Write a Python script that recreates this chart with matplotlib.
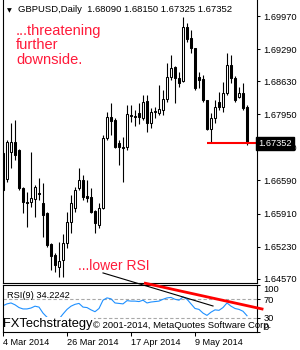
import matplotlib
matplotlib.use('Agg')
import matplotlib.pyplot as plt
import matplotlib.transforms as mtransforms
import numpy as np
import pandas as pd

plt.rcParams['font.family'] = ['Liberation Sans', 'DejaVu Sans']

# ---------------- data ----------------
symbol = "GBPUSD,Daily"
start_date = "2014-03-04"

opens = [
    1.6715, 1.6662, 1.6718, 1.6738, 1.6722, 1.6644, 1.6615, 1.6615, 1.6621, 1.6633,
    1.6613, 1.6592, 1.6529, 1.6506, 1.6481, 1.6496, 1.6531, 1.6574, 1.6602, 1.6644,
    1.6660, 1.6627, 1.6625, 1.6596, 1.6568, 1.6602, 1.6746, 1.6789, 1.6783, 1.6736,
    1.6728, 1.6728, 1.6794, 1.6792, 1.6798, 1.6787, 1.6822, 1.6777, 1.6800, 1.6798,
    1.6804, 1.6826, 1.6872, 1.6892, 1.6870, 1.6863, 1.6974, 1.6952, 1.6931, 1.6872,
    1.6868, 1.6824, 1.6765, 1.6787, 1.6820, 1.6810, 1.6839, 1.6896, 1.6870, 1.6831,
    1.6839, 1.68090]
highs = [
    1.6720, 1.6742, 1.6777, 1.6783, 1.6723, 1.6646, 1.6635, 1.6718, 1.6650, 1.6664,
    1.6654, 1.6594, 1.6531, 1.6510, 1.6533, 1.6549, 1.6594, 1.6629, 1.6646, 1.6685,
    1.6670, 1.6660, 1.6644, 1.6598, 1.6613, 1.6752, 1.6800, 1.6818, 1.6787, 1.6742,
    1.6748, 1.6814, 1.6814, 1.6804, 1.6818, 1.6835, 1.6835, 1.6808, 1.6810, 1.6855,
    1.6845, 1.6900, 1.6917, 1.6894, 1.6882, 1.6995, 1.6983, 1.6968, 1.6932, 1.6882,
    1.6876, 1.6825, 1.6798, 1.6824, 1.6841, 1.6861, 1.6921, 1.6917, 1.6874, 1.6851,
    1.6859, 1.68150]
lows = [
    1.6637, 1.6656, 1.6685, 1.6701, 1.6639, 1.6592, 1.6564, 1.6604, 1.6584, 1.6619,
    1.6543, 1.6522, 1.6475, 1.6471, 1.6461, 1.6461, 1.6520, 1.6551, 1.6594, 1.6639,
    1.6619, 1.6615, 1.6592, 1.6551, 1.6561, 1.6600, 1.6742, 1.6752, 1.6726, 1.6691,
    1.6656, 1.6722, 1.6779, 1.6771, 1.6775, 1.6783, 1.6759, 1.6767, 1.6787, 1.6794,
    1.6794, 1.6820, 1.6865, 1.6818, 1.6851, 1.6861, 1.6944, 1.6921, 1.6845, 1.6849,
    1.6820, 1.6763, 1.6735, 1.6777, 1.6804, 1.6800, 1.6835, 1.6859, 1.6820, 1.6829,
    1.6804, 1.67325]
closes = [
    1.6639, 1.6738, 1.6738, 1.6711, 1.6644, 1.6615, 1.6613, 1.6623, 1.6646, 1.6631,
    1.6588, 1.6527, 1.6504, 1.6485, 1.6494, 1.6531, 1.6574, 1.6613, 1.6639, 1.6660,
    1.6625, 1.6623, 1.6594, 1.6572, 1.6602, 1.6746, 1.6789, 1.6781, 1.6728, 1.6728,
    1.6726, 1.6796, 1.6792, 1.6789, 1.6789, 1.6820, 1.6777, 1.6800, 1.6802, 1.6806,
    1.6826, 1.6872, 1.6890, 1.6870, 1.6859, 1.6974, 1.6950, 1.6931, 1.6849, 1.6865,
    1.6824, 1.6765, 1.6787, 1.6810, 1.6810, 1.6839, 1.6896, 1.6870, 1.6824, 1.6839,
    1.6808, 1.67352]
rsi = [
    56, 60, 62, 58, 52, 49, 49, 51, 55, 53,
    40, 31, 27, 24, 27, 38, 48, 55, 59, 61,
    53, 52, 47, 43, 50, 68, 73, 71, 62, 61,
    60, 67, 66, 66, 65, 68, 62, 64, 65, 66,
    70, 73, 74, 70, 68, 75, 70, 60, 50, 48,
    40, 35, 42, 47, 46, 52, 62, 55, 50, 48,
    44, 34.2242]

price_ticks = [1.69970, 1.69290, 1.68630, 1.67950, 1.67270, 1.66590, 1.65910, 1.65230, 1.64570]
rsi_ticks = [100, 70, 30, 0]
rsi_levels = [70, 30]
date_labels = ["4 Mar 2014", "26 Mar 2014", "17 Apr 2014", "9 May 2014"]
support_from_date = "2014-05-14"

# annotation trend lines (bar index, RSI value)
black_trend = ([25, 52.5], [127.2, 55.4])
red_trend = ([35.25, 65.1], [105.4, 48.3])

note_main = "...threatening\nfurther\ndownside."
note_rsi = "...lower RSI"
brand = "FXTechstrategy"
copyright_txt = "\u00a9 2001-2014, MetaQuotes Software Corp."

# ---------------- figure ----------------
W, H = 300, 350
fig = plt.figure(figsize=(W / 100, H / 100), dpi=100)
fig.patch.set_facecolor('white')

def fx(x):
    return x / W

def fy(y):
    return 1 - y / H

ax = fig.add_axes([fx(2.5), fy(283), fx(257) - fx(2.5), fy(0) - fy(283)])
ax2 = fig.add_axes([fx(2.5), fy(331.5), fx(257) - fx(2.5), fy(285) - fy(331.5)])

dates = pd.bdate_range(start_date, periods=len(closes))
x = np.arange(len(closes))
o = np.array(opens); c = np.array(closes)
hi = np.array(highs); lo = np.array(lows)

bull = c >= o
faces = ['white' if b else 'black' for b in bull]
bottoms = np.minimum(o, c)
heights = np.abs(c - o)

ax.vlines(x, lo, hi, color='black', lw=0.8, zorder=2)
ax.bar(x, heights, bottom=bottoms, width=0.62, color=faces, edgecolor='black',
       linewidth=0.75, zorder=3)

xmin, xmax = -0.125, 63.5
ax.set_xlim(xmin, xmax)
ax.set_ylim(1.64483, 1.70299)
ax.set_xticks([])
ax.yaxis.tick_right()
ax.set_yticks(price_ticks)
ax.set_yticklabels([f"{v:.5f}" for v in price_ticks])
ax.tick_params(axis='y', direction='out', length=2.5, width=0.75, pad=2,
               labelsize=6.7, colors='black')
ax.spines['top'].set_visible(False)
for s in ['left', 'right', 'bottom']:
    ax.spines[s].set_linewidth(0.8)

# support line
sidx = list(dates.strftime('%Y-%m-%d')).index(support_from_date)
ax.plot([sidx, xmax], [closes[-1], closes[-1]], color='#FF0000', lw=1.5, zorder=4,
        solid_capstyle='butt')

# price box
trans = mtransforms.blended_transform_factory(ax.transAxes, ax.transData)
ax.text(1.006, closes[-1], f"{closes[-1]:.5f}", transform=trans, color='white',
        fontsize=6.7, va='center', ha='left', zorder=6, clip_on=False,
        bbox=dict(boxstyle='square,pad=0.25', facecolor='black', edgecolor='black'))

# header
fig.text(fx(9.5), fy(10.5), "\u25bc", fontsize=4.5, family=['DejaVu Sans'],
         ha='center', va='center')
fig.text(fx(18), fy(10), f"{symbol}  {opens[-1]:.5f} {highs[-1]:.5f} {lows[-1]:.5f} {closes[-1]:.5f}",
         fontsize=6.8, ha='left', va='center', color='black')

red_txt = '#FF1A3A'
fig.text(fx(16), fy(23.5), note_main, fontsize=10.5, color=red_txt, ha='left', va='top',
         linespacing=1.05)
fig.text(fx(78.5), fy(265.5), note_rsi, fontsize=10, color=red_txt, ha='left', va='center')

# ---------------- RSI pane ----------------
for lvl in rsi_levels:
    ax2.axhline(lvl, color='#A8A8A8', lw=0.8, linestyle=(0, (3, 2)), zorder=1)
ax2.plot(x, rsi, color='#1E90FF', lw=0.8, zorder=2)
ax2.set_xlim(xmin, xmax)
ax2.set_ylim(0, 101)
ax2.yaxis.tick_right()
ax2.set_yticks(rsi_ticks)
ax2.set_yticklabels([str(v) for v in rsi_ticks])
for lbl, v in zip(ax2.get_yticklabels(), rsi_ticks):
    if v == 100:
        lbl.set_va('top')
    elif v == 0:
        lbl.set_va('bottom')
ax2.tick_params(axis='y', direction='out', length=2.5, width=0.75, pad=2, labelsize=6.7)

date_str = [f"{d.day} {d.strftime('%b %Y')}" for d in dates]
tick_pos = [date_str.index(lbl) for lbl in date_labels]
ax2.set_xticks(tick_pos)
ax2.set_xticklabels(date_labels)
for lbl in ax2.get_xticklabels():
    lbl.set_ha('left')
ax2.tick_params(axis='x', direction='out', length=3, width=0.75, pad=1.5, labelsize=6.6)
for s in ax2.spines.values():
    s.set_linewidth(0.8)

ax2.text(fx(7), fy(295), f"RSI(9) {rsi[-1]:.4f}", transform=fig.transFigure,
         fontsize=6.7, ha='left', va='center', zorder=3)
ax2.text(fx(3), fy(324.5), brand, transform=fig.transFigure, fontsize=9.3,
         ha='left', va='center', zorder=2.4, clip_on=False,
         bbox=dict(boxstyle='square,pad=0.1', facecolor='white', edgecolor='none'))
fig.text(fx(93), fy(325), copyright_txt, fontsize=6.8, ha='left', va='center')

ax2.plot(*black_trend, color='black', lw=0.8, clip_on=False, zorder=4)
ax2.plot(*red_trend, color='#FF0000', lw=2.0, clip_on=False, zorder=5,
         solid_capstyle='butt')

fig.savefig('out.png', dpi=100, facecolor='white')
